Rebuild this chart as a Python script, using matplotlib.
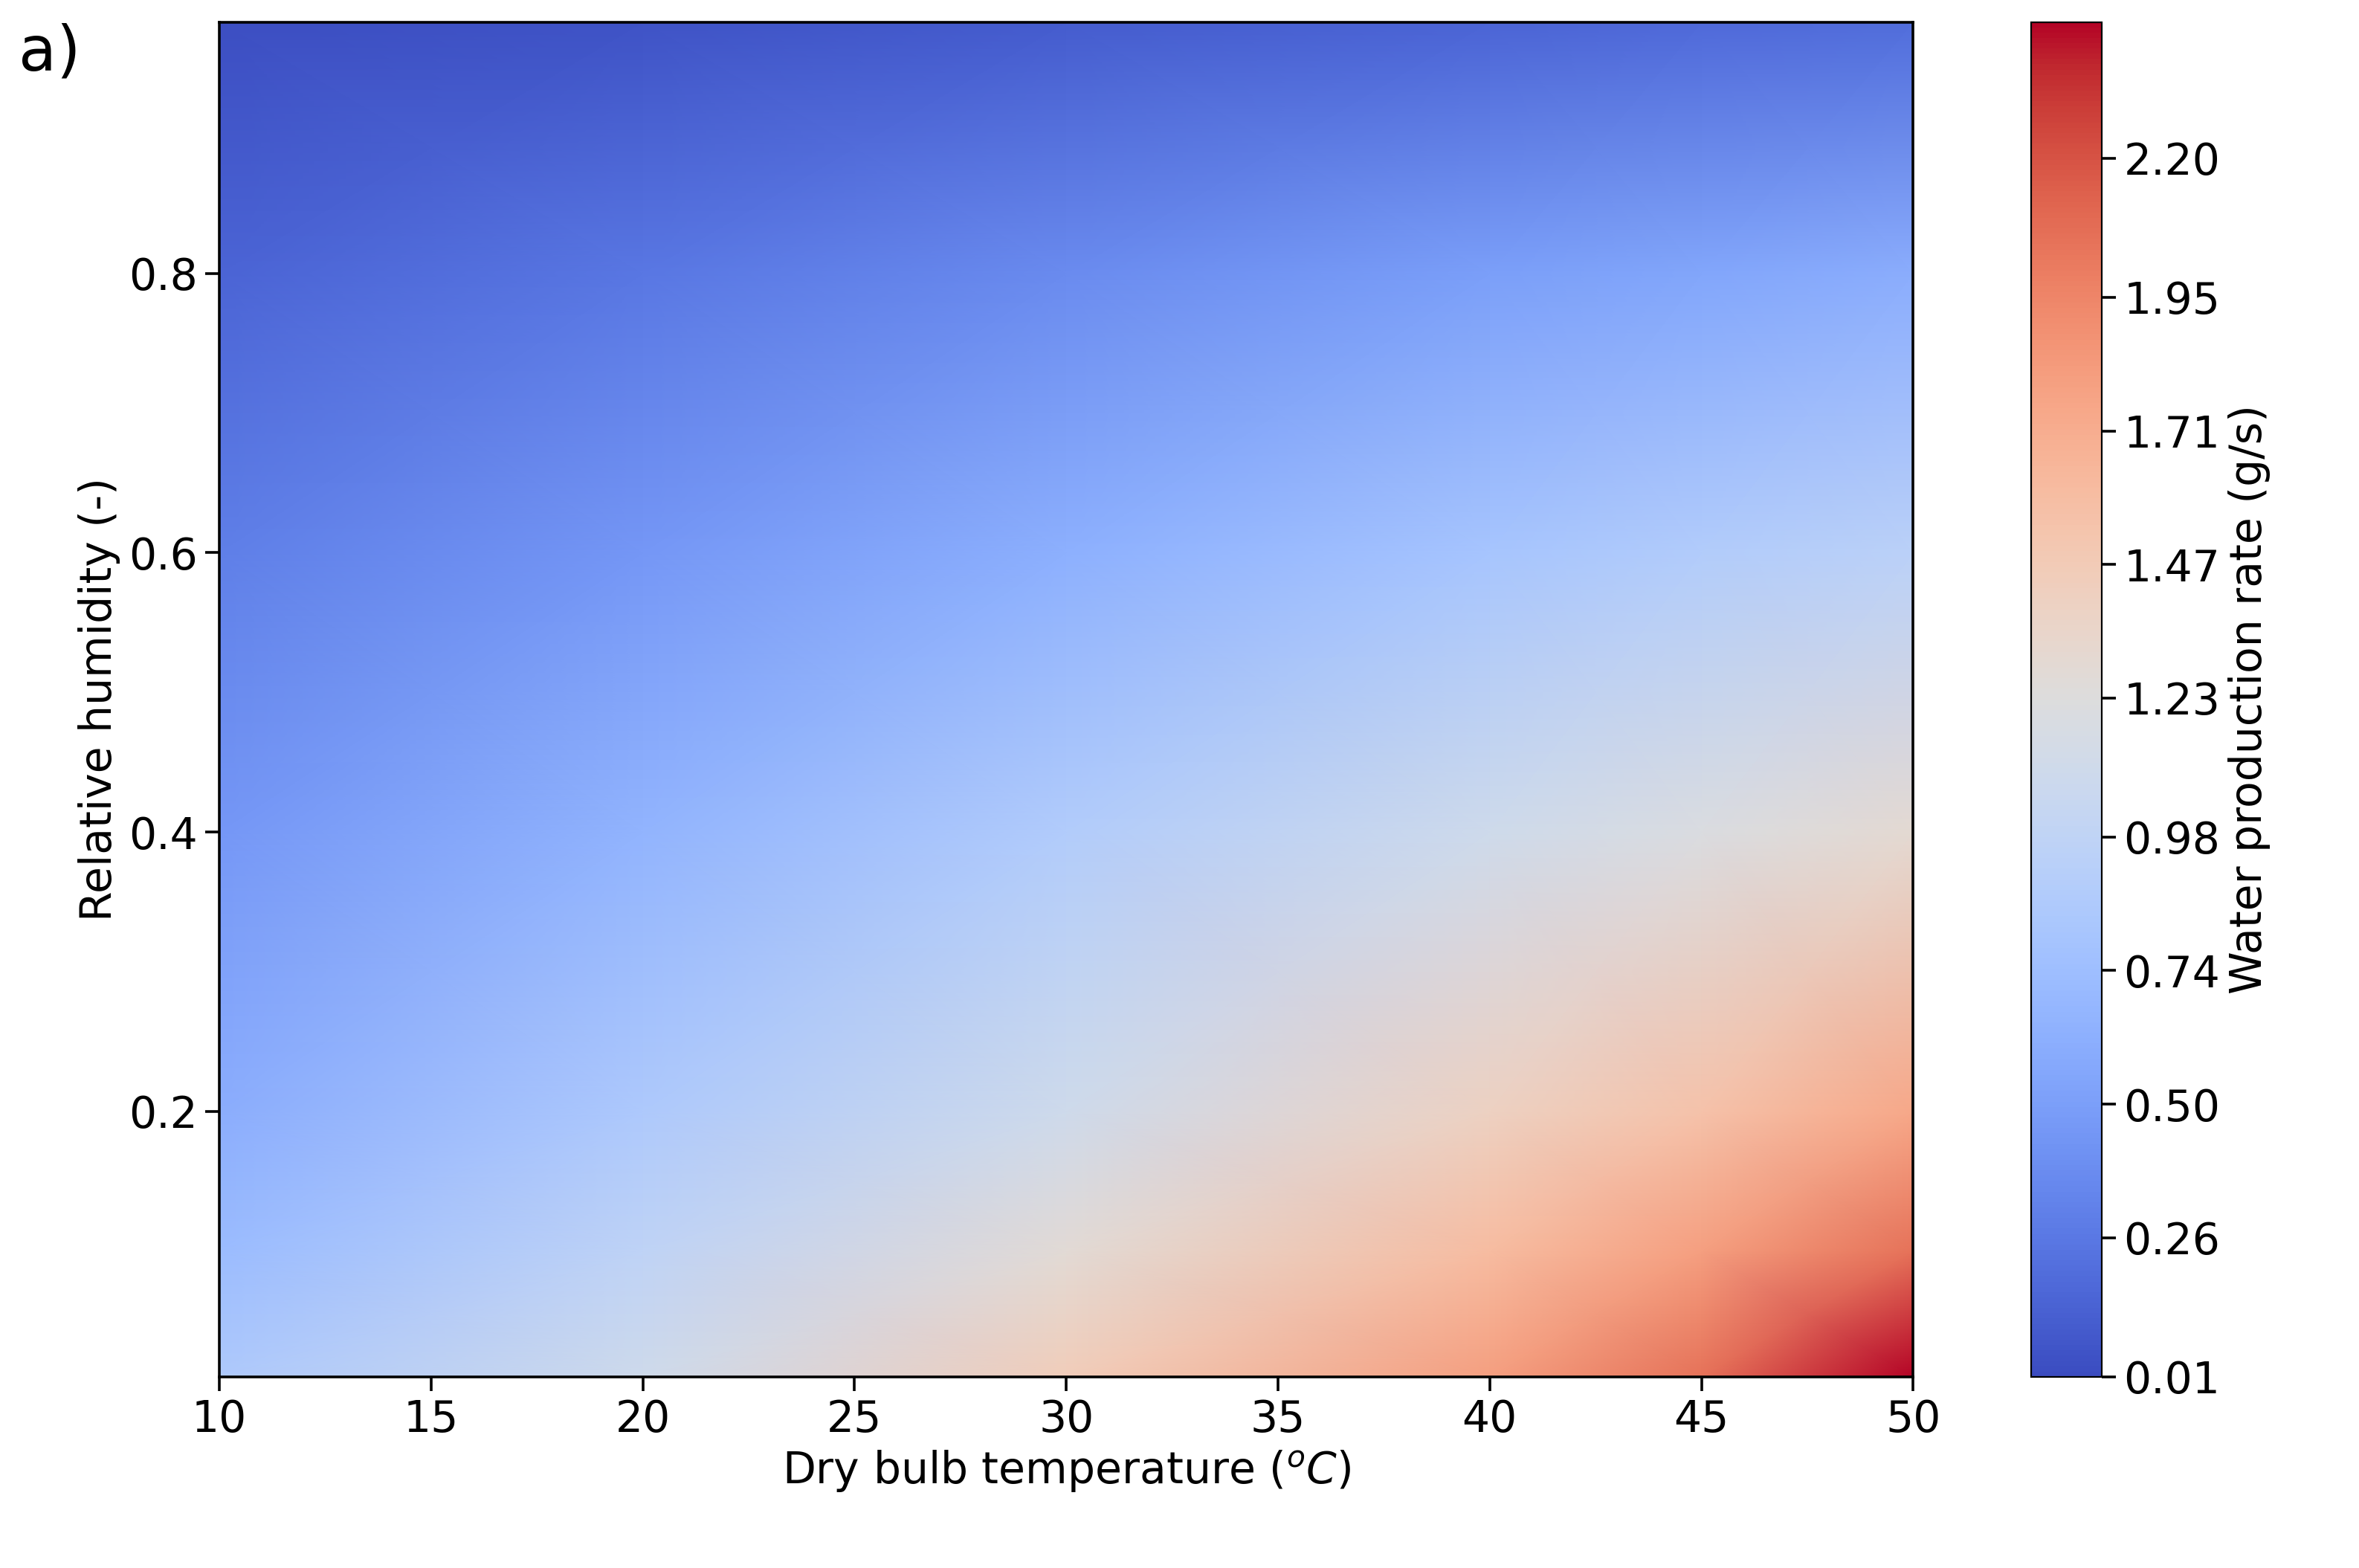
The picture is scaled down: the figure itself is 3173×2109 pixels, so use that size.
import numpy as np
import matplotlib.pyplot as plt

# values on a coarse grid, smoothed by gouraud shading
temps = [10, 20, 30, 40, 45, 50]
humidity = [0.01, 0.1, 0.2, 0.4, 0.6, 0.8, 0.98]
rate = np.array([
    [0.85, 1.10, 1.45, 1.80, 2.05, 2.44],
    [0.72, 0.98, 1.28, 1.60, 1.80, 2.05],
    [0.60, 0.85, 1.10, 1.40, 1.55, 1.75],
    [0.45, 0.65, 0.88, 1.10, 1.20, 1.30],
    [0.30, 0.45, 0.62, 0.80, 0.88, 0.95],
    [0.15, 0.25, 0.38, 0.50, 0.55, 0.60],
    [0.02, 0.05, 0.10, 0.15, 0.18, 0.20],
])
cb_ticks = [0.01, 0.26, 0.50, 0.74, 0.98, 1.23, 1.47, 1.71, 1.95, 2.20]

fs = 21
fig = plt.figure(figsize=(15.865, 10.545), dpi=200)
ax = fig.add_axes([0.093, 0.122, 0.718, 0.864])
cax = fig.add_axes([0.861, 0.122, 0.030, 0.864])

pc = ax.pcolormesh(temps, humidity, rate, shading="gouraud", cmap="coolwarm",
                   vmin=0.01, vmax=2.445)
ax.set_xlim(10, 50)
ax.set_ylim(0.01, 0.98)
ax.set_yticks([0.2, 0.4, 0.6, 0.8])
ax.set_xticks(range(10, 51, 5))
ax.tick_params(labelsize=fs, length=7, width=1.3)
ax.set_xlabel("Dry bulb temperature ($^{o}C$)", fontsize=fs)
ax.set_ylabel("Relative humidity (-)", fontsize=fs)
for s in ax.spines.values():
    s.set_linewidth(1.3)

cb = fig.colorbar(pc, cax=cax)
cb.set_ticks(cb_ticks)
cb.set_ticklabels([f"{t:.2f}" for t in cb_ticks])
cb.ax.tick_params(labelsize=fs, length=7, width=1.3)
cb.set_label("Water production rate (g/s)", fontsize=fs)

fig.text(0.008, 0.955, "a)", fontsize=30)
fig.savefig("out.png", dpi=200)
